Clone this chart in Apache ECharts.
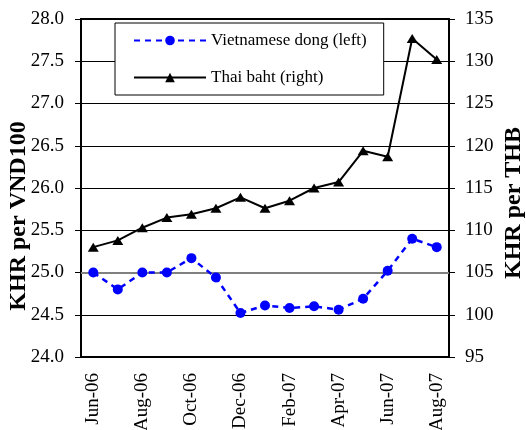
<!DOCTYPE html>
<html>
<head>
<meta charset="utf-8">
<title>KHR exchange rates</title>
<script src="https://cdn.jsdelivr.net/npm/echarts@6/dist/echarts.min.js"></script>
<style>
  html, body { margin: 0; padding: 0; background: #fff; }
  #main { width: 526px; height: 430px; }
</style>
</head>
<body>
<div id="main"></div>
<script>
// months Jun-06 .. Aug-07
const months = ["Jun-06", "Jul-06", "Aug-06", "Sep-06", "Oct-06", "Nov-06", "Dec-06",
  "Jan-07", "Feb-07", "Mar-07", "Apr-07", "May-07", "Jun-07", "Jul-07", "Aug-07"];
// KHR per VND100 (left axis)
const vnd = [25.0, 24.8, 25.0, 25.0, 25.17, 24.94, 24.52, 24.61, 24.58, 24.6, 24.56, 24.69, 25.02, 25.4, 25.3];
// KHR per THB (right axis)
const thb = [108.0, 108.8, 110.3, 111.5, 111.9, 112.6, 113.9, 112.6, 113.5, 115.0, 115.7, 119.4, 118.7, 132.7, 130.2];

const font = "'Liberation Serif', 'Times New Roman', serif";

const chart = echarts.init(document.getElementById("main"));
chart.setOption({
  animation: false,
  textStyle: { fontFamily: font, color: "#000" },
  grid: {
    left: 81, right: 77, top: 19, bottom: 73,
    containLabel: false,
    outerBoundsMode: "none",
    show: true, borderColor: "#000", borderWidth: 2
  },
  legend: {
    orient: "vertical",
    left: 115, top: 23,
    padding: [9, 17, 9, 18],
    backgroundColor: "#fff",
    borderColor: "#000",
    borderWidth: 1,
    borderRadius: 0,
    itemWidth: 72,
    itemHeight: 12,
    itemGap: 20,
    textStyle: { fontFamily: font, fontSize: 17, color: "#000" },
    data: ["Vietnamese dong (left)", "Thai baht (right)"]
  },
  xAxis: {
    type: "category",
    data: months,
    boundaryGap: true,
    axisLine: { lineStyle: { color: "#000", width: 2 } },
    axisTick: { interval: 1, length: 5, lineStyle: { color: "#000", width: 1 } },
    axisLabel: { interval: 1, rotate: 90, margin: 16, fontFamily: font, fontSize: 19, color: "#000" },
    splitLine: { show: false }
  },
  yAxis: [
    {
      type: "value",
      min: 24, max: 28, interval: 0.5,
      name: "KHR per VND100",
      nameLocation: "middle",
      nameGap: 50,
      nameMoveOverlap: false,
      nameTextStyle: { fontFamily: font, fontSize: 24, fontWeight: "bold", color: "#000", padding: [0, 56, 0, 0] },
      axisLine: { show: true, lineStyle: { color: "#000", width: 2 } },
      axisTick: { show: true, length: 6, lineStyle: { color: "#000" } },
      axisLabel: { margin: 17, fontFamily: font, fontSize: 19, color: "#000", formatter: v => v.toFixed(1) },
      splitLine: { show: true, lineStyle: { color: "#000", width: 1 } }
    },
    {
      type: "value",
      min: 95, max: 135, interval: 5,
      position: "right",
      name: "KHR per THB",
      nameLocation: "middle",
      nameGap: 53,
      nameRotate: 90,
      nameMoveOverlap: false,
      nameTextStyle: { fontFamily: font, fontSize: 24, fontWeight: "bold", color: "#000", padding: [0, 30, 0, 0] },
      axisLine: { show: true, lineStyle: { color: "#000", width: 2 } },
      axisTick: { show: true, length: 6, lineStyle: { color: "#000" } },
      axisLabel: { margin: 16, fontFamily: font, fontSize: 19, color: "#000" },
      splitLine: { show: false }
    }
  ],
  series: [
    {
      name: "Vietnamese dong (left)",
      type: "line",
      yAxisIndex: 0,
      data: vnd,
      symbol: "circle",
      symbolSize: 10,
      itemStyle: { color: "#0000ff" },
      lineStyle: { color: "#0000ff", width: 2.5, type: [6, 5] },
      markLine: {
        silent: true,
        symbol: "none",
        label: { show: false },
        lineStyle: { color: "#808080", width: 2, type: "solid" },
        data: [{ yAxis: 25 }],
        z: 1
      },
      z: 3
    },
    {
      name: "Thai baht (right)",
      type: "line",
      yAxisIndex: 1,
      data: thb,
      symbol: "triangle",
      symbolSize: [11, 9],
      itemStyle: { color: "#000" },
      lineStyle: { color: "#000", width: 2 },
      z: 3
    }
  ]
});
</script>
</body>
</html>
